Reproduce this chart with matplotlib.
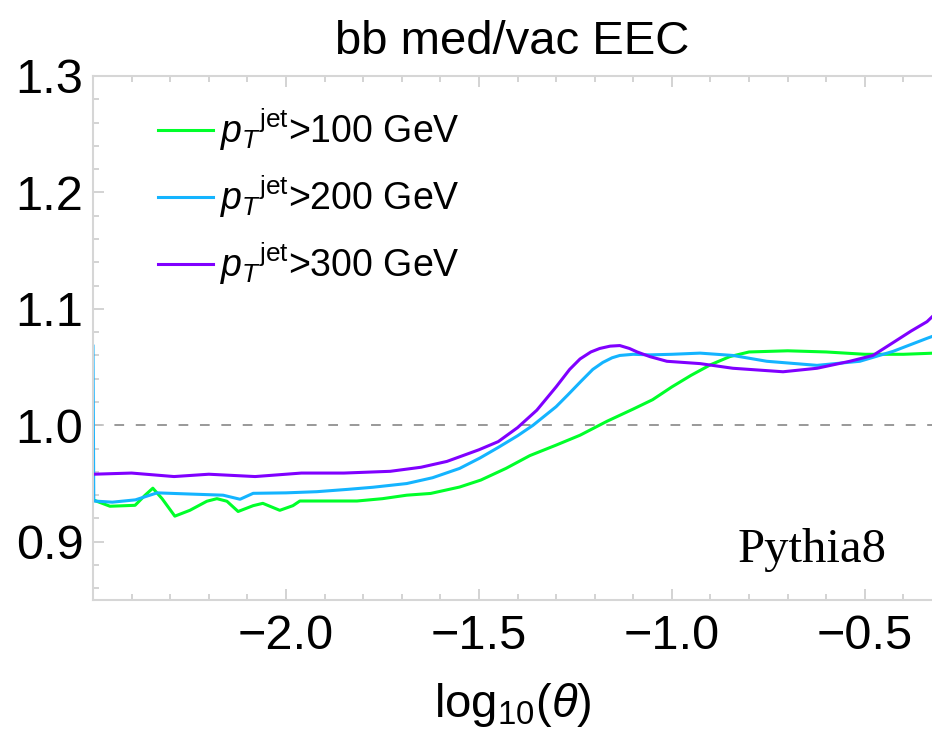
import matplotlib
matplotlib.use('Agg')
import matplotlib.pyplot as plt
from matplotlib.ticker import MultipleLocator

plt.rcParams['font.family'] = ['Liberation Sans', 'DejaVu Sans']
plt.rcParams['mathtext.fontset'] = 'custom'
plt.rcParams['mathtext.rm'] = 'Liberation Sans'
plt.rcParams['mathtext.it'] = 'Liberation Sans:italic'
plt.rcParams['mathtext.bf'] = 'Liberation Sans:bold'

# values: log10(theta) vs med/vac ratio
x_100 = [-2.5, -2.456, -2.391, -2.365, -2.345, -2.321, -2.288, -2.249, -2.205,
         -2.179, -2.153, -2.124, -2.085, -2.06, -2.016, -1.982, -1.964, -1.9,
         -1.816, -1.75, -1.687, -1.625, -1.55, -1.495, -1.43, -1.368, -1.3,
         -1.238, -1.168, -1.1, -1.05, -1.0, -0.95, -0.9, -0.85, -0.8, -0.7,
         -0.6, -0.5, -0.4, -0.32]
y_100 = [0.936, 0.9305, 0.9313, 0.940, 0.946, 0.937, 0.922, 0.927, 0.9348,
         0.937, 0.9348, 0.926, 0.931, 0.933, 0.927, 0.931, 0.935, 0.935,
         0.935, 0.937, 0.940, 0.9415, 0.947, 0.953, 0.963, 0.974, 0.983,
         0.9915, 1.0035, 1.014, 1.022, 1.033, 1.043, 1.052, 1.059, 1.063, 1.064,
         1.063, 1.061, 1.061, 1.062]

x_200 = [-2.5, -2.498, -2.45, -2.39, -2.334, -2.25, -2.163, -2.119, -2.085,
         -2.0, -1.92, -1.84, -1.775, -1.687, -1.62, -1.55, -1.497, -1.45, -1.4,
         -1.36, -1.3, -1.27, -1.235, -1.205, -1.179, -1.155, -1.135, -1.1,
         -1.057, -1.0, -0.927, -0.842, -0.754, -0.624, -0.513, -0.427, -0.339,
         -0.32]
y_200 = [1.068, 0.935, 0.934, 0.936, 0.942, 0.941, 0.940, 0.9365, 0.9416,
         0.942, 0.943, 0.945, 0.9468, 0.950, 0.955, 0.963, 0.972, 0.981, 0.991,
         1.0, 1.016, 1.026, 1.038, 1.048, 1.054, 1.058, 1.060, 1.061,
         1.0605, 1.061, 1.062, 1.060, 1.055, 1.0515, 1.055, 1.0635, 1.0747,
         1.077]

x_300 = [-2.5, -2.4, -2.29, -2.2, -2.08, -1.96, -1.85, -1.73, -1.65, -1.583,
         -1.5, -1.45, -1.4, -1.35, -1.3, -1.265, -1.238, -1.21, -1.187, -1.16,
         -1.135, -1.11, -1.09, -1.057, -1.013, -0.927, -0.842, -0.712, -0.624,
         -0.539, -0.479, -0.427, -0.38, -0.339, -0.32]
y_300 = [0.958, 0.959, 0.956, 0.958, 0.956, 0.959, 0.959, 0.9605, 0.964, 0.969,
         0.979, 0.986, 0.998, 1.013, 1.033, 1.048, 1.057, 1.063, 1.066, 1.068,
         1.0685, 1.066, 1.063, 1.059, 1.055, 1.053, 1.049, 1.046, 1.049,
         1.055, 1.060, 1.071, 1.081, 1.089, 1.095]

labels = [r'$p_T{}^{\mathrm{jet}}$>100 GeV',
          r'$p_T{}^{\mathrm{jet}}$>200 GeV',
          r'$p_T{}^{\mathrm{jet}}$>300 GeV']
colors = ['#00ff2a', '#14b4ff', '#8000ff']

fig = plt.figure(figsize=(9.32, 7.35), dpi=100)
ax = fig.add_axes([0.0998, 0.1837, 0.9002, 0.7129])

for xs, ys, lab, col in zip([x_100, x_200, x_300], [y_100, y_200, y_300],
                            labels, colors):
    ax.plot(xs, ys, color=col, lw=2.2, label=lab, solid_joinstyle='round')

ax.axhline(1.0, color='#999999', lw=1.4, dashes=[5, 6], zorder=0)

ax.set_xlim(-2.5, -0.326)
ax.set_ylim(0.85, 1.3)
ax.xaxis.set_major_locator(MultipleLocator(0.5))
ax.xaxis.set_minor_locator(MultipleLocator(0.1))
ax.yaxis.set_major_locator(MultipleLocator(0.1))
ax.yaxis.set_minor_locator(MultipleLocator(0.02))
ax.set_yticks([0.9, 1.0, 1.1, 1.2, 1.3])
ax.set_xticks([-2.0, -1.5, -1.0, -0.5])

for side in ['left', 'bottom', 'top']:
    ax.spines[side].set_color('#d6d6d6')
    ax.spines[side].set_linewidth(1.5)
ax.spines['right'].set_visible(False)

ax.tick_params(which='both', direction='in', color='#cccccc', width=1.2,
               top=True, right=False)
ax.tick_params(which='major', length=8, labelsize=35, pad=7)
ax.tick_params(axis='x', which='major', pad=10)
ax.tick_params(which='minor', length=4.5)

ax.set_title('bb med/vac EEC', fontsize=34, pad=16)
ax.set_xlabel(r'log$_{10}$($\theta$)', fontsize=34, labelpad=16)

ax.text(0.946, 0.072, 'Pythia8', transform=ax.transAxes, ha='right',
        va='baseline', fontsize=35, family='Liberation Serif')

ax.legend(loc='upper left', bbox_to_anchor=(0.06, 0.97), frameon=False,
          fontsize=27, handlelength=1.45, handletextpad=0.2,
          labelspacing=0.55, borderaxespad=0)

fig.savefig('out.png', dpi=100)
